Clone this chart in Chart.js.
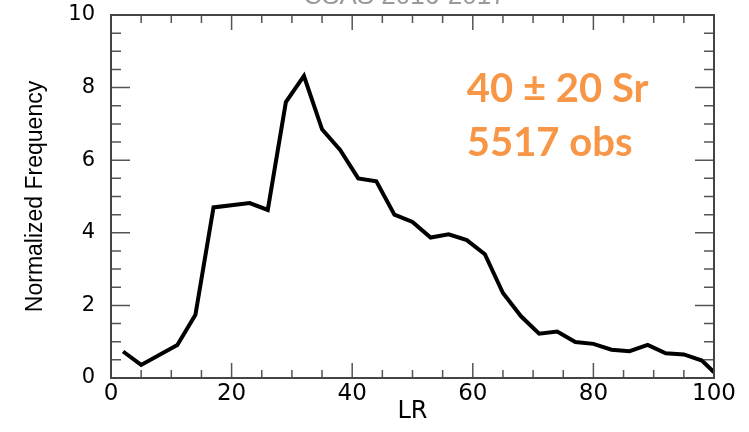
<!DOCTYPE html>
<html>
<head>
<meta charset="utf-8">
<script src="https://cdn.jsdelivr.net/npm/chart.js@4.4.0/dist/chart.umd.min.js"></script>
<style>
  html, body { margin:0; padding:0; background:#fff; }
  #wrap { width:749px; height:432px; }
</style>
</head>
<body>
<div id="wrap"><canvas id="lrChart" width="749" height="432"></canvas></div>
<script>
// lidar ratio histogram (normalized)
const lrBins = [2,5,11,14,17,23,26,29,32,35,38,41,44,47,50,53,56,59,62,65,68,71,74,77,80,83,86,89,92,95,98,100];
const freq   = [0.73,0.36,0.91,1.74,4.70,4.82,4.63,7.60,8.32,6.85,6.28,5.50,5.42,4.50,4.30,3.87,3.96,3.80,3.41,2.34,1.70,1.22,1.28,0.99,0.94,0.78,0.74,0.91,0.68,0.65,0.48,0.16];
const xTicks = [0,20,40,60,80,100];
const yTicks = [0,2,4,6,8,10];
const noteLines = ['40 ± 20 Sr', '5517 obs'];
const runTitle = 'CSAS 2016-2017';

const AXIS_FONT = 'Liberation Sans, Arial, sans-serif';
const TICK_FONT = '"DejaVu Sans", sans-serif';

// box frame + inward IDL-style ticks on all four sides
const idlFrame = {
  id: 'idlFrame',
  afterDraw(chart) {
    const {ctx, chartArea: a, scales: {x, y}} = chart;
    ctx.save();

    ctx.strokeStyle = '#555';
    ctx.lineWidth = 1.5;
    for (let v = 5; v < 100; v += 5) {
      const px = x.getPixelForValue(v);
      const len = v % 20 === 0 ? 15 : 8;
      ctx.beginPath();
      ctx.moveTo(px, a.bottom); ctx.lineTo(px, a.bottom - len);
      ctx.moveTo(px, a.top);    ctx.lineTo(px, a.top + len);
      ctx.stroke();
    }
    for (let k = 1; k < 20; k++) {
      const v = k * 0.5;
      const py = y.getPixelForValue(v);
      const len = v % 2 === 0 ? 19 : 10;
      ctx.beginPath();
      ctx.moveTo(a.left, py);  ctx.lineTo(a.left + len, py);
      ctx.moveTo(a.right, py); ctx.lineTo(a.right - len, py);
      ctx.stroke();
    }

    ctx.strokeStyle = '#444';
    ctx.lineWidth = 2;
    ctx.strokeRect(a.left, a.top, a.right - a.left, a.bottom - a.top);

    // run title sits mostly above the canvas edge
    ctx.fillStyle = '#9a9a9a';
    ctx.font = '26px ' + AXIS_FONT;
    ctx.textAlign = 'center';
    ctx.textBaseline = 'alphabetic';
    ctx.fillText(runTitle, (a.left + a.right) / 2 - 8, 4);

    // orange annotation, anchored to data space
    ctx.fillStyle = '#F79646';
    ctx.font = 'bold 40px Lato, "Open Sans", sans-serif';
    ctx.textAlign = 'left';
    const nx = x.getPixelForValue(59);
    noteLines.forEach((t, i) => {
      ctx.fillText(t, nx, y.getPixelForValue(7.6) + i * 54);
    });
    ctx.restore();
  }
};

new Chart(document.getElementById('lrChart'), {
  type: 'scatter',
  data: {
    datasets: [{
      data: lrBins.map((b, i) => ({x: b, y: freq[i]})),
      showLine: true,
      borderColor: '#000',
      borderWidth: 4,
      pointRadius: 0,
      tension: 0,
      clip: 4
    }]
  },
  options: {
    responsive: false,
    animation: false,
    layout: { padding: { top: 15, right: 35, left: 0, bottom: 0 } },
    plugins: { legend: { display: false }, tooltip: { enabled: false } },
    scales: {
      x: {
        type: 'linear', min: 0, max: 100,
        afterBuildTicks: s => { s.ticks = xTicks.map(v => ({value: v})); },
        afterFit: s => { s.height = 54; s.paddingLeft = 0; s.paddingRight = 0; },
        grid: { display: false, drawTicks: false },
        border: { display: false },
        ticks: { color: '#000', font: { size: 23, family: TICK_FONT }, padding: 2, maxRotation: 0 },
        title: { display: true, text: 'LR', color: '#000', font: { size: 24, family: TICK_FONT }, padding: { top: 0, bottom: 6 } }
      },
      y: {
        min: 0, max: 10,
        afterBuildTicks: s => { s.ticks = yTicks.map(v => ({value: v})); },
        afterFit: s => { s.width = 111; s.paddingTop = 0; s.paddingBottom = 0; },
        grid: { display: false, drawTicks: false },
        border: { display: false },
        ticks: { color: '#000', font: { size: 21, family: TICK_FONT }, padding: 16 },
        title: { display: true, text: 'Normalized Frequency', color: '#000', font: { size: 23, family: AXIS_FONT }, padding: { top: 22, bottom: 0 } }
      }
    }
  },
  plugins: [idlFrame]
});
</script>
</body>
</html>
